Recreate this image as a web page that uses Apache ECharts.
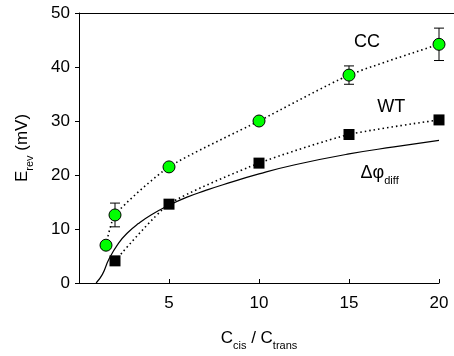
<!DOCTYPE html>
<html><head><meta charset="utf-8">
<script src="https://cdn.jsdelivr.net/npm/echarts@6/dist/echarts.min.js"></script>
<style>html,body{margin:0;padding:0;background:#fff}#c{width:454px;height:356px}</style>
</head><body><div id="c"></div>
<script>
// Data
const ccX = [1.5, 2, 5, 10, 15, 20];
const ccY = [7.0, 12.6, 21.5, 30.0, 38.5, 44.2];
const ccErr = [0, 2.2, 0, 0, 1.7, 3.0];
const wtX = [2, 5, 10, 15, 20];
const wtY = [4.1, 14.6, 22.2, 27.5, 30.2];
const diffX = [0.95, 1.3, 1.66, 2.2, 2.7, 3.3, 4, 5, 6, 7, 8, 10, 12, 15, 17.5, 20];
const diffY = [0, 1.6, 4.4, 7.4, 9.3, 11.0, 12.6, 14.4, 15.9, 17.1, 18.2, 20.2, 21.9, 23.9, 25.2, 26.4];
const yTicks = [0, 10, 20, 30, 40, 50];
const xTicks = [5, 10, 15, 20];
const annotations = [
  {name: 'CC', x: 16.0, y: 44.7},
  {name: 'WT', x: 17.35, y: 32.5},
  {name: 'diff', x: 16.7, y: 20.7}
];

const FONT = 'Liberation Sans, Arial, Helvetica, sans-serif';
const chart = echarts.init(document.getElementById('c'), null, {renderer: 'canvas'});
const zip = (a, b) => a.map((v, i) => [v, b[i]]);
const errData = ccX.map((x, i) => [x, ccY[i] - ccErr[i], ccY[i] + ccErr[i]]).filter((d, i) => ccErr[i] > 0);

chart.setOption({
  animation: false,
  backgroundColor: '#fff',
  textStyle: {fontFamily: FONT},
  grid: {left: 79, right: 15, top: 13, bottom: 72},
  graphic: [{
    type: 'line', z: 10,
    shape: {x1: 79, y1: 13.5, x2: 454, y2: 13.5},
    style: {stroke: '#000', lineWidth: 1}
  }],
  xAxis: {
    type: 'value', min: 0, max: 20, interval: 5,
    axisLine: {lineStyle: {color: '#000', width: 1}},
    axisTick: {inside: true, length: 4, lineStyle: {color: '#000'}},
    axisLabel: {color: '#000', fontSize: 17, fontFamily: FONT, margin: 12,
      formatter: v => xTicks.includes(v) ? String(v) : ''},
    splitLine: {show: false},
    name: '{b|C}{s|cis}{b| / C}{s|trans}',
    nameLocation: 'middle', nameGap: 44,
    nameTextStyle: {rich: {
      b: {fontSize: 17, color: '#000', fontFamily: FONT, verticalAlign: 'bottom', lineHeight: 20},
      s: {fontSize: 11, color: '#000', fontFamily: FONT, verticalAlign: 'bottom', lineHeight: 20, padding: [0, 0, -4, 0]}
    }}
  },
  yAxis: {
    type: 'value', min: 0, max: 50, interval: 10,
    axisLine: {show: true, lineStyle: {color: '#000', width: 1}},
    axisTick: {show: true, inside: false, length: 4, lineStyle: {color: '#000'}},
    axisLabel: {color: '#000', fontSize: 17, fontFamily: FONT, margin: 9,
      formatter: v => yTicks.includes(v) ? String(v) : ''},
    splitLine: {show: false},
    name: '{b|E}{s|rev}{b| (mV)}',
    nameLocation: 'middle', nameRotate: 90, nameGap: 48,
    nameTextStyle: {rich: {
      b: {fontSize: 17, color: '#000', fontFamily: FONT, verticalAlign: 'bottom', lineHeight: 20},
      s: {fontSize: 11, color: '#000', fontFamily: FONT, verticalAlign: 'bottom', lineHeight: 20, padding: [0, 0, -4, 0]}
    }}
  },
  series: [
    {
      type: 'line', data: zip(diffX, diffY), smooth: 0.5, symbol: 'none',
      lineStyle: {color: '#000', width: 1.2}, z: 2
    },
    {
      type: 'line', data: zip(wtX, wtY), smooth: 0.2, symbol: 'none',
      lineStyle: {color: '#000', width: 1.6, type: [1.5, 3]}, z: 2
    },
    {
      type: 'line', data: zip(ccX, ccY), smooth: 0.2, symbol: 'none',
      lineStyle: {color: '#000', width: 1.6, type: [1.5, 3]}, z: 2
    },
    {
      type: 'custom', z: 3,
      data: errData,
      renderItem: (params, api) => {
        const x = api.value(0);
        const lo = api.coord([x, api.value(1)]);
        const hi = api.coord([x, api.value(2)]);
        const w = 5;
        const st = {stroke: '#000', lineWidth: 1};
        return {type: 'group', children: [
          {type: 'line', shape: {x1: lo[0], y1: lo[1], x2: hi[0], y2: hi[1]}, style: st},
          {type: 'line', shape: {x1: lo[0] - w, y1: lo[1], x2: lo[0] + w, y2: lo[1]}, style: st},
          {type: 'line', shape: {x1: hi[0] - w, y1: hi[1], x2: hi[0] + w, y2: hi[1]}, style: st}
        ]};
      }
    },
    {
      type: 'scatter', data: zip(wtX, wtY), symbol: 'rect', symbolSize: 11,
      itemStyle: {color: '#000', opacity: 1}, z: 4
    },
    {
      type: 'scatter', data: zip(ccX, ccY), symbol: 'circle', symbolSize: 12,
      itemStyle: {color: '#00ff00', borderColor: '#000', borderWidth: 1, opacity: 1}, z: 5
    },
    {
      type: 'scatter', symbolSize: 0, z: 6, silent: true,
      itemStyle: {opacity: 1},
      data: annotations.map(a => ({value: [a.x, a.y], name: a.name})),
      label: {
        show: true, position: 'inside', color: '#000', opacity: 1, fontFamily: FONT,
        textBorderWidth: 0,
        formatter: p => p.name === 'diff' ? '{b|Δφ}{s|diff}' : '{n|' + p.name + '}',
        rich: {
          n: {fontSize: 18, color: '#000', fontFamily: FONT},
          b: {fontSize: 18, color: '#000', fontFamily: FONT, verticalAlign: 'bottom', lineHeight: 22},
          s: {fontSize: 11, color: '#000', fontFamily: FONT, verticalAlign: 'bottom', lineHeight: 22, padding: [0, 0, -4, 0]}
        }
      }
    }
  ]
});
</script>
</body></html>
